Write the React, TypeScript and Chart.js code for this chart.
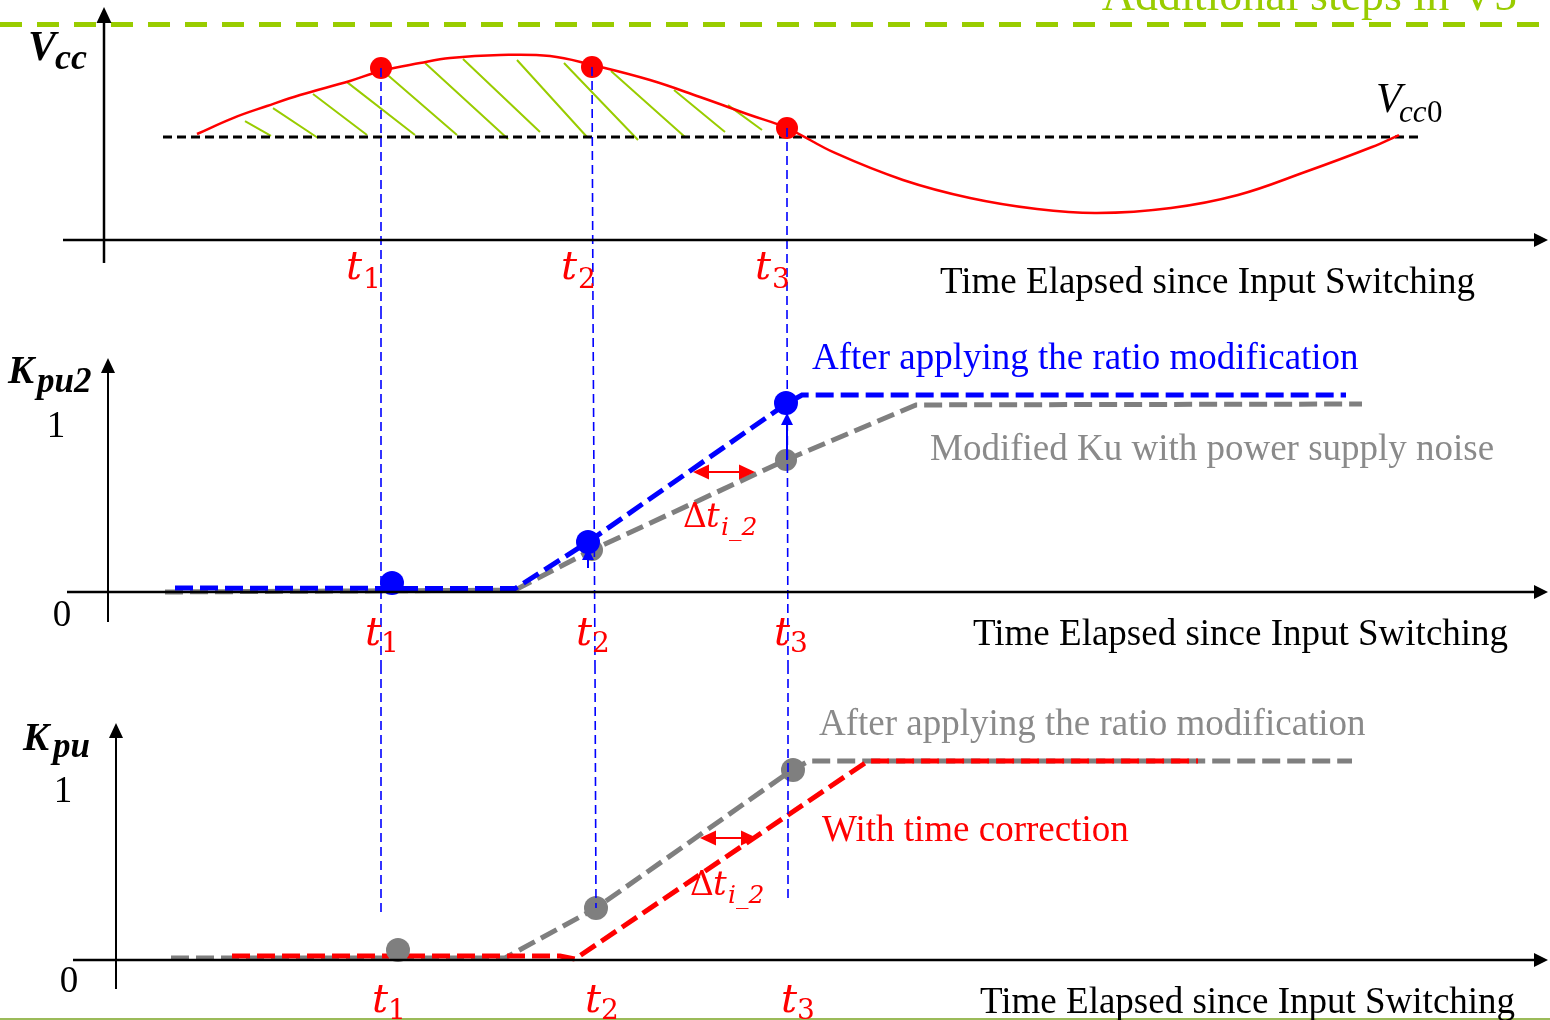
import React, { useEffect, useRef } from "react";
import { Chart, registerables } from "chart.js";
Chart.register(...registerables);

// ---------------- DATA ----------------
// Shared time axis (arbitrary time units since input switching)
// Panel 1: supply voltage Vcc (normalised, Vcc0 = 1)
const vccT = [197, 233, 267, 300, 350, 381, 420, 450, 500, 550, 592, 650, 700, 750, 787, 835, 903, 970, 1037, 1097, 1171, 1238, 1305, 1372, 1399];
const vccV = [1.029, 1.184, 1.301, 1.408, 1.544, 1.641, 1.718, 1.767, 1.796, 1.786, 1.7, 1.553, 1.388, 1.214, 1.087, 0.845, 0.583, 0.408, 0.301, 0.262, 0.311, 0.437, 0.66, 0.903, 1.019];
const vcc0Level = 1.0;
const vcc0Span = [163, 1422];
const vccSampleT = [381, 592, 787];
const vccSampleV = [1.67, 1.68, 1.087];
// hatched area between Vcc and Vcc0 (start / end of each hatch stroke)
const hatchStartT = [245, 273, 313, 347, 383, 425, 463, 517, 564, 611, 674, 728];
const hatchStartV = [1.155, 1.281, 1.417, 1.533, 1.64, 1.718, 1.757, 1.748, 1.718, 1.64, 1.456, 1.31];
const hatchEndT = [271, 318, 367, 415, 457, 508, 540, 587, 638, 685, 725, 762];
const hatchEndV = [1.01, 0.99, 1.019, 1.019, 1.019, 0.981, 1.049, 1.0, 0.971, 1.0, 1.049, 1.068];

// Panel 2: Kpu2
const kpu2BlueT = [175, 515, 588, 786, 802, 1346];
const kpu2BlueV = [0.021, 0.018, 0.266, 1.0, 1.048, 1.048];
const kpu2GrayT = [165, 515, 592, 786, 916, 1362];
const kpu2GrayV = [0.0, 0.01, 0.223, 0.702, 0.995, 1.0];
const kpu2BlueDotT = [392, 588, 786];
const kpu2BlueDotV = [0.048, 0.266, 1.005];
const kpu2GrayDotT = [592, 786];
const kpu2GrayDotV = [0.223, 0.702];

// Panel 3: Kpu
const kpuGrayT = [171, 505, 596, 792, 809, 1352];
const kpuGrayV = [0.01, 0.01, 0.261, 0.955, 1.0, 1.0];
const kpuRedT = [232, 560, 575, 868, 1198];
const kpuRedV = [0.02, 0.02, 0.005, 1.0, 1.0];
const kpuGrayDotT = [398, 596, 793];
const kpuGrayDotV = [0.05, 0.261, 0.955];

// sample-instant guide lines (t1, t2, t3) per panel: [axis, tTop, vTop, tBottom, vBottom]
const guideSegments: [string, number, number, number, number][] = [
  ["y1", 381, 1.67, 381, -0.68], ["y2", 381, 1.5, 381, -0.388], ["y3", 381, 1.482, 381, 0.226],
  ["y1", 592, 1.68, 593, -0.68], ["y2", 593, 1.5, 595, -0.388], ["y3", 595, 1.482, 596, 0.261],
  ["y1", 787, 1.087, 787, -0.68], ["y2", 787, 1.5, 788, -0.388], ["y3", 788, 1.482, 788, 0.291],
];

// ---------------- LAYOUT / STYLE ----------------
const W = 1550;
const H = 1020;
const panels: Record<string, { zero: number; unit: number }> = {
  y1: { zero: 240, unit: 103 },
  y2: { zero: 592, unit: 188 },
  y3: { zero: 960, unit: 199 },
};
const yRange = (k: string) => ({ min: (panels[k].zero - H) / panels[k].unit, max: panels[k].zero / panels[k].unit });

const BLUE = "#0000ff";
const RED = "#ff0000";
const GRAY = "#7f7f7f";
const GREEN = "#99cc00";
const SERIF = '"Liberation Serif", "Times New Roman", serif';
const MATH = '"DejaVu Serif", serif';

type Arrow = { axis: string; from: [number, number]; to: [number, number]; color: string; width: number; len: number; hw: number; both?: boolean };
const arrows: Arrow[] = [
  { axis: "y1", from: [104, -0.223], to: [104, 2.262], color: "#000", width: 2.5, len: 16, hw: 7.5 },
  { axis: "y1", from: [63, 0], to: [1548, 0], color: "#000", width: 2.5, len: 14, hw: 7 },
  { axis: "y2", from: [108, -0.16], to: [108, 1.245], color: "#000", width: 2, len: 15, hw: 7 },
  { axis: "y2", from: [67, 0], to: [1548, 0], color: "#000", width: 2.5, len: 14, hw: 7 },
  { axis: "y3", from: [116, -0.146], to: [116, 1.191], color: "#000", width: 2, len: 15, hw: 7 },
  { axis: "y3", from: [73, 0], to: [1548, 0], color: "#000", width: 2.5, len: 14, hw: 7 },
  { axis: "y2", from: [787, 0.702], to: [787, 0.952], color: BLUE, width: 2, len: 12, hw: 6 },
  { axis: "y2", from: [588, 0.128], to: [588, 0.234], color: BLUE, width: 2, len: 12, hw: 6 },
  { axis: "y2", from: [693, 0.638], to: [755, 0.638], color: RED, width: 2, len: 16, hw: 7.5, both: true },
  { axis: "y3", from: [700, 0.613], to: [757, 0.613], color: RED, width: 2, len: 16, hw: 7.5, both: true },
];

type Label = { axis: string; x: number; y: number; text: string; font: string; color: string; align?: CanvasTextAlign };
const T_FONT = `italic 40px ${MATH}`;
const SUB_FONT = `28px ${MATH}`;
const labels: Label[] = [
  // panel 1
  { axis: "y1", x: 1517, y: 2.233, text: "Additional steps in V5", font: `46px ${SERIF}`, color: GREEN, align: "right" },
  { axis: "y1", x: 28, y: 1.748, text: "V", font: `bold italic 42px ${SERIF}`, color: "#000" },
  { axis: "y1", x: 55, y: 1.66, text: "cc", font: `bold italic 36px ${SERIF}`, color: "#000" },
  { axis: "y1", x: 1376, y: 1.243, text: "V", font: `italic 42px ${SERIF}`, color: "#000" },
  { axis: "y1", x: 1399, y: 1.146, text: "cc", font: `italic 31px ${SERIF}`, color: "#000" },
  { axis: "y1", x: 1427, y: 1.146, text: "0", font: `31px ${SERIF}`, color: "#000" },
  { axis: "y1", x: 346, y: -0.379, text: "t", font: T_FONT, color: RED },
  { axis: "y1", x: 363, y: -0.466, text: "1", font: SUB_FONT, color: RED },
  { axis: "y1", x: 561, y: -0.379, text: "t", font: T_FONT, color: RED },
  { axis: "y1", x: 578, y: -0.466, text: "2", font: SUB_FONT, color: RED },
  { axis: "y1", x: 755, y: -0.379, text: "t", font: T_FONT, color: RED },
  { axis: "y1", x: 772, y: -0.466, text: "3", font: SUB_FONT, color: RED },
  { axis: "y1", x: 940, y: -0.515, text: "Time Elapsed since Input Switching", font: `37px ${SERIF}`, color: "#000" },
  // panel 2
  { axis: "y2", x: 8, y: 1.112, text: "K", font: `bold italic 39px ${SERIF}`, color: "#000" },
  { axis: "y2", x: 37, y: 1.064, text: "pu2", font: `bold italic 35px ${SERIF}`, color: "#000" },
  { axis: "y2", x: 56, y: 0.824, text: "1", font: `37px ${SERIF}`, color: "#000", align: "center" },
  { axis: "y2", x: 62, y: -0.181, text: "0", font: `37px ${SERIF}`, color: "#000", align: "center" },
  { axis: "y2", x: 812, y: 1.186, text: "After applying the ratio modification", font: `37px ${SERIF}`, color: BLUE },
  { axis: "y2", x: 930, y: 0.702, text: "Modified Ku with power supply noise", font: `37px ${SERIF}`, color: "#8a8a8a" },
  { axis: "y2", x: 683, y: 0.346, text: "\u0394", font: `33px ${MATH}`, color: RED },
  { axis: "y2", x: 706, y: 0.346, text: "t", font: `italic 34px ${MATH}`, color: RED },
  { axis: "y2", x: 721, y: 0.303, text: "i_2", font: `italic 25px ${MATH}`, color: RED },
  { axis: "y2", x: 365, y: -0.282, text: "t", font: T_FONT, color: RED },
  { axis: "y2", x: 381, y: -0.319, text: "1", font: SUB_FONT, color: RED },
  { axis: "y2", x: 576, y: -0.282, text: "t", font: T_FONT, color: RED },
  { axis: "y2", x: 592, y: -0.319, text: "2", font: SUB_FONT, color: RED },
  { axis: "y2", x: 774, y: -0.282, text: "t", font: T_FONT, color: RED },
  { axis: "y2", x: 790, y: -0.319, text: "3", font: SUB_FONT, color: RED },
  { axis: "y2", x: 973, y: -0.282, text: "Time Elapsed since Input Switching", font: `37px ${SERIF}`, color: "#000" },
  // panel 3
  { axis: "y3", x: 23, y: 1.055, text: "K", font: `bold italic 39px ${SERIF}`, color: "#000" },
  { axis: "y3", x: 53, y: 1.02, text: "pu", font: `bold italic 35px ${SERIF}`, color: "#000" },
  { axis: "y3", x: 63, y: 0.794, text: "1", font: `37px ${SERIF}`, color: "#000", align: "center" },
  { axis: "y3", x: 69, y: -0.161, text: "0", font: `37px ${SERIF}`, color: "#000", align: "center" },
  { axis: "y3", x: 819, y: 1.131, text: "After applying the ratio modification", font: `37px ${SERIF}`, color: "#8a8a8a" },
  { axis: "y3", x: 822, y: 0.598, text: "With time correction", font: `37px ${SERIF}`, color: RED },
  { axis: "y3", x: 690, y: 0.327, text: "\u0394", font: `33px ${MATH}`, color: RED },
  { axis: "y3", x: 713, y: 0.327, text: "t", font: `italic 34px ${MATH}`, color: RED },
  { axis: "y3", x: 728, y: 0.286, text: "i_2", font: `italic 25px ${MATH}`, color: RED },
  { axis: "y3", x: 372, y: -0.261, text: "t", font: T_FONT, color: RED },
  { axis: "y3", x: 388, y: -0.296, text: "1", font: SUB_FONT, color: RED },
  { axis: "y3", x: 585, y: -0.261, text: "t", font: T_FONT, color: RED },
  { axis: "y3", x: 601, y: -0.296, text: "2", font: SUB_FONT, color: RED },
  { axis: "y3", x: 781, y: -0.261, text: "t", font: T_FONT, color: RED },
  { axis: "y3", x: 797, y: -0.296, text: "3", font: SUB_FONT, color: RED },
  { axis: "y3", x: 980, y: -0.266, text: "Time Elapsed since Input Switching", font: `37px ${SERIF}`, color: "#000" },
];

// ---------------- helpers ----------------
const zip = (ts: number[], vs: number[]) => ts.map((t, i) => ({ x: t, y: vs[i] }));

const lineDs = (axis: string, data: any[], color: string, width: number, dash: number[], order: number, extra: any = {}) => ({
  data,
  yAxisID: axis,
  xAxisID: "x",
  showLine: true,
  borderColor: color,
  backgroundColor: color,
  borderWidth: width,
  borderDash: dash,
  borderCapStyle: "butt",
  pointRadius: 0,
  pointHoverRadius: 0,
  tension: 0,
  spanGaps: false,
  order,
  ...extra,
});

const dotDs = (axis: string, data: any[], color: string, r: number, order: number) => ({
  data,
  yAxisID: axis,
  xAxisID: "x",
  showLine: false,
  pointRadius: r,
  pointHoverRadius: r,
  backgroundColor: color,
  borderWidth: 0,
  order,
});

const overlayPlugin = {
  id: "overlay",
  afterDatasetsDraw(chart: any) {
    const ctx: CanvasRenderingContext2D = chart.ctx;
    const xs = chart.scales.x;
    const px = (v: number) => xs.getPixelForValue(v);
    const py = (axis: string, v: number) => chart.scales[axis].getPixelForValue(v);
    ctx.save();
    ctx.setLineDash([]);
    const head = (x: number, y: number, ang: number, a: Arrow) => {
      ctx.beginPath();
      ctx.moveTo(x, y);
      ctx.lineTo(x - a.len * Math.cos(ang) + a.hw * Math.sin(ang), y - a.len * Math.sin(ang) - a.hw * Math.cos(ang));
      ctx.lineTo(x - a.len * Math.cos(ang) - a.hw * Math.sin(ang), y - a.len * Math.sin(ang) + a.hw * Math.cos(ang));
      ctx.closePath();
      ctx.fill();
    };
    for (const a of arrows) {
      const x0 = px(a.from[0]), y0 = py(a.axis, a.from[1]);
      const x1 = px(a.to[0]), y1 = py(a.axis, a.to[1]);
      const ang = Math.atan2(y1 - y0, x1 - x0);
      ctx.strokeStyle = a.color;
      ctx.fillStyle = a.color;
      ctx.lineWidth = a.width;
      const sx = a.both ? x0 + Math.cos(ang) * a.len * 0.7 : x0;
      const sy = a.both ? y0 + Math.sin(ang) * a.len * 0.7 : y0;
      const ex = x1 - Math.cos(ang) * a.len * 0.7;
      const ey = y1 - Math.sin(ang) * a.len * 0.7;
      ctx.beginPath();
      ctx.moveTo(sx, sy);
      ctx.lineTo(ex, ey);
      ctx.stroke();
      head(x1, y1, ang, a);
      if (a.both) head(x0, y0, ang + Math.PI, a);
    }
    ctx.textBaseline = "alphabetic";
    for (const l of labels) {
      ctx.font = l.font;
      ctx.fillStyle = l.color;
      ctx.textAlign = l.align ?? "left";
      ctx.fillText(l.text, px(l.x), py(l.axis, l.y));
    }
    ctx.restore();
  },
};

export default function App() {
  const ref = useRef<HTMLCanvasElement>(null);
  useEffect(() => {
    const hatch: any[] = [];
    hatchStartT.forEach((t, i) => {
      hatch.push({ x: t, y: hatchStartV[i] }, { x: hatchEndT[i], y: hatchEndV[i] }, { x: hatchEndT[i], y: null });
    });
    const guidesByAxis: Record<string, any[]> = { y1: [], y2: [], y3: [] };
    guideSegments.forEach(([axis, t0, v0, t1, v1]) => {
      guidesByAxis[axis].push({ x: t0, y: v0 }, { x: t1, y: v1 }, { x: t1, y: null });
    });
    const datasets: any[] = [
      // guides (top-most)
      lineDs("y1", guidesByAxis.y1, BLUE, 1.6, [9, 5], 0),
      lineDs("y2", guidesByAxis.y2, BLUE, 1.6, [9, 5], 0),
      lineDs("y3", guidesByAxis.y3, BLUE, 1.6, [9, 5], 0),
      // dots
      dotDs("y1", zip(vccSampleT, vccSampleV), RED, 11, 1),
      dotDs("y2", zip(kpu2BlueDotT, kpu2BlueDotV), BLUE, 12, 1),
      dotDs("y2", zip(kpu2GrayDotT, kpu2GrayDotV), GRAY, 11, 2),
      dotDs("y3", zip(kpuGrayDotT, kpuGrayDotV), GRAY, 12, 2),
      // thick dashed characteristics
      lineDs("y2", zip(kpu2BlueT, kpu2BlueV), BLUE, 5, [18, 7], 3),
      lineDs("y2", zip(kpu2GrayT, kpu2GrayV), GRAY, 5, [18, 7], 4),
      lineDs("y3", zip(kpuRedT, kpuRedV), RED, 5, [18, 7], 3),
      lineDs("y3", zip(kpuGrayT, kpuGrayV), GRAY, 5, [18, 7], 4),
      // Vcc panel
      lineDs("y1", zip(vccT, vccV), RED, 2.5, [], 5, { tension: 0.4 }),
      lineDs("y1", [{ x: vcc0Span[0], y: vcc0Level }, { x: vcc0Span[1], y: vcc0Level }], "#000", 3, [9, 5], 6),
      lineDs("y1", hatch, GREEN, 2, [], 7),
      // slide decoration
      lineDs("y1", [{ x: 0, y: 2.092 }, { x: 1550, y: 2.092 }], GREEN, 5, [22, 15], 8),
      lineDs("y3", [{ x: 0, y: -0.2965 }, { x: 1550, y: -0.2965 }], "#9bbb59", 2, [], 8),
    ];
    const scales: any = {
      x: { type: "linear", min: 0, max: W, display: false },
    };
    ["y1", "y2", "y3"].forEach((k) => {
      scales[k] = { type: "linear", position: "left", display: false, ...yRange(k) };
    });
    const chart = new Chart(ref.current as HTMLCanvasElement, {
      type: "scatter",
      data: { datasets },
      options: {
        responsive: false,
        maintainAspectRatio: false,
        animation: false,
        layout: { padding: 0, autoPadding: false },
        events: [],
        plugins: { legend: { display: false }, tooltip: { enabled: false } },
        scales,
      },
      plugins: [overlayPlugin],
    } as any);
    return () => chart.destroy();
  }, []);
  return (
    <div style={{ position: "absolute", left: 0, top: 0, width: W, height: H, background: "#fff" }}>
      <canvas ref={ref} width={W} height={H} style={{ display: "block", width: W, height: H }} />
    </div>
  );
}
